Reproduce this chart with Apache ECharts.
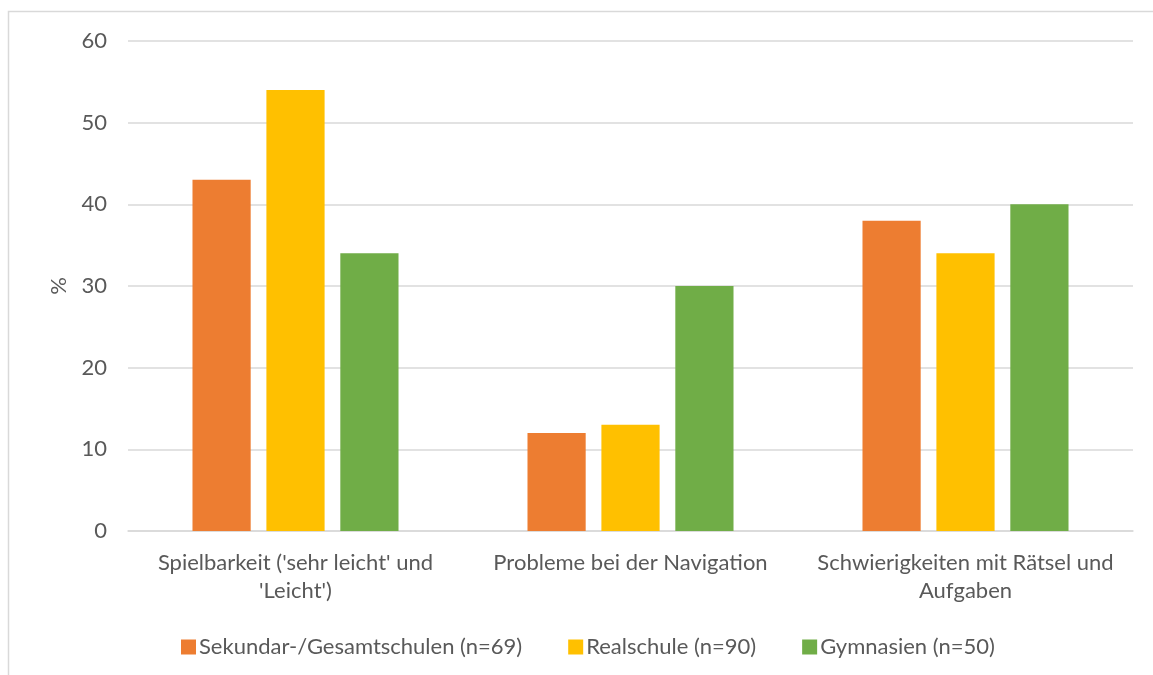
<!DOCTYPE html>
<html>
<head>
<meta charset="utf-8">
<script src="https://cdn.jsdelivr.net/npm/echarts@6/dist/echarts.min.js"></script>
<style>
  html, body { margin: 0; padding: 0; background: #ffffff; }
  #chart { width: 1153px; height: 675px; }
</style>
</head>
<body>
<div id="chart"></div>
<script>
// Categories (line breaks as printed under the axis)
const categories = [
  "Spielbarkeit ('sehr leicht' und\n'Leicht')",
  "Probleme bei der Navigation",
  "Schwierigkeiten mit Rätsel und\nAufgaben"
];
// Shares in percent per school type
const sekundar = [43, 12, 38];
const realschule = [54, 13, 34];
const gymnasien = [34, 30, 40];
const seriesNames = [
  "Sekundar-/Gesamtschulen (n=69)",
  "Realschule (n=90)",
  "Gymnasien (n=50)"
];
const yTicks = { min: 0, max: 60, interval: 10 };

const font = "Lato, 'Open Sans', sans-serif";
const colors = ["#ED7D31", "#FFC000", "#70AD47"];
const textColor = '#595959';

const chart = echarts.init(document.getElementById('chart'));
const mk = (name, data, color) => ({
  name, type: 'bar', data,
  itemStyle: { color },
  barGap: '27%', barCategoryGap: '38.5%'
});

chart.setOption({
  animation: false,
  color: colors,
  graphic: [{
    type: 'rect',
    shape: { x: 8.5, y: 11.5, width: 1160, height: 700 },
    style: { fill: 'none', stroke: '#d9d9d9', lineWidth: 1.5 },
    silent: true
  }],
  grid: { left: 128, right: 20, top: 41, bottom: 144 },
  legend: {
    top: 631, left: 176,
    itemWidth: 15, itemHeight: 15, itemGap: 46,
    icon: 'rect',
    textStyle: { color: textColor, fontSize: 22, fontFamily: font, padding: [0, 0, 0, -2] },
    data: seriesNames
  },
  xAxis: {
    type: 'category',
    data: categories,
    axisLine: { lineStyle: { color: '#d9d9d9', width: 1.5 } },
    axisTick: { show: false },
    axisLabel: { color: textColor, fontSize: 22, fontFamily: font, margin: 18, lineHeight: 28, interval: 0 }
  },
  yAxis: {
    type: 'value',
    min: yTicks.min, max: yTicks.max, interval: yTicks.interval,
    name: '%', nameLocation: 'middle', nameGap: 58, nameRotate: 90,
    nameTextStyle: { color: textColor, fontSize: 22, fontFamily: font },
    axisLine: { show: false },
    axisTick: { show: false },
    axisLabel: { color: textColor, fontSize: 22, fontFamily: font, margin: 21 },
    splitLine: { lineStyle: { color: '#d9d9d9', width: 1.5 } }
  },
  series: [
    mk(seriesNames[0], sekundar, colors[0]),
    mk(seriesNames[1], realschule, colors[1]),
    mk(seriesNames[2], gymnasien, colors[2])
  ]
});
</script>
</body>
</html>
